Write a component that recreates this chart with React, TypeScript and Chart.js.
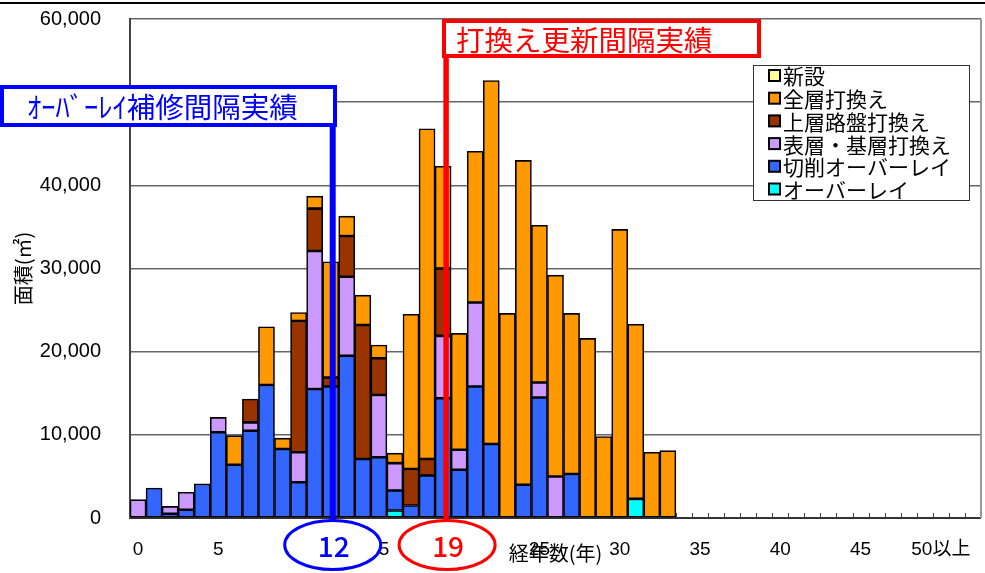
import React, { useEffect, useRef } from 'react';
import { Chart, registerables } from 'chart.js';

Chart.register(...registerables);

// ---- data ----
const categories: string[] = [
  ...Array.from({ length: 50 }, (_, i) => String(i)),
  '50以上', '', '',
];

const seriesNames = ['オーバーレイ', '切削オーバーレイ', '表層・基層打換え', '上層路盤打換え', '全層打換え', '新設'];
const seriesColors = ['#00ffff', '#3366ff', '#cc99ff', '#993300', '#ff9900', '#ffff99'];

// years 0..33 (m²)
const overlay = [0, 0, 0, 0, 0, 0, 0, 0, 0, 0, 0, 0, 0, 0, 0, 0, 900, 0, 0, 0, 0, 0, 0, 0, 0, 0, 0, 0, 0, 0, 0, 2300, 0, 0];
const cutOverlay = [0, 3600, 500, 1000, 4100, 10300, 6400, 10500, 16000, 8300, 4300, 15500, 15800, 19500, 7100, 7300, 2400, 1500, 5100, 14400, 5800, 15800, 8900, 0, 4000, 14500, 0, 5300, 0, 0, 0, 0, 0, 0];
const surfaceBase = [2200, 0, 900, 2100, 0, 1800, 0, 1000, 0, 0, 3600, 16600, 0, 9500, 0, 7500, 3300, 0, 0, 7500, 2400, 10100, 0, 0, 0, 1800, 5000, 0, 0, 0, 0, 0, 0, 0];
const upperBase = [0, 0, 0, 0, 0, 0, 0, 2800, 0, 0, 15800, 5100, 1100, 4900, 16100, 4400, 0, 4400, 2000, 8100, 0, 0, 0, 0, 0, 0, 0, 0, 0, 0, 0, 0, 0, 0];
const fullDepth = [0, 0, 0, 0, 0, 0, 3500, 0, 7000, 1300, 1000, 1500, 13900, 2400, 3600, 1600, 1200, 18600, 39700, 12300, 14000, 18200, 43700, 24600, 39000, 18900, 24200, 19300, 21600, 9800, 34700, 21000, 7900, 8100];
const newBuild = [0, 0, 0, 0, 0, 0, 0, 0, 0, 0, 0, 0, 0, 0, 0, 0, 0, 0, 0, 0, 0, 0, 0, 0, 0, 0, 0, 0, 0, 0, 0, 0, 0, 0];

const seriesValues = [overlay, cutOverlay, surfaceBase, upperBase, fullDepth, newBuild];

const yTicks = [0, 10000, 20000, 30000, 40000, 50000, 60000];

const blueLabel = 'ｵｰﾊﾞｰﾚｲ補修間隔実績';
const blueYear = 12;
const redLabel = '打換え更新間隔実績';
const redYear = 19;

const yTitle = '面積(㎡)';
const xTitle = '経年数(年)';

const JP = "'Noto Sans CJK JP', sans-serif";
const NUM = "'Liberation Sans', 'Noto Sans CJK JP', sans-serif";

const decorPlugin = {
  id: 'decor',
  beforeDatasetsDraw(chart: any) {
    const { ctx, chartArea: ca, scales } = chart;
    const x = scales.x;
    const n = chart.data.labels.length;
    const w = (ca.right - ca.left) / n;
    ctx.save();
    ctx.strokeStyle = '#444';
    ctx.lineWidth = 1;
    for (let i = 1; i < n; i++) {
      const px = Math.round(x.getPixelForValue(i) - w / 2) + 0.5;
      ctx.beginPath();
      ctx.moveTo(px, ca.bottom);
      ctx.lineTo(px, ca.bottom - 5);
      ctx.stroke();
    }
    ctx.strokeStyle = '#999';
    ctx.lineWidth = 2;
    ctx.beginPath();
    ctx.moveTo(ca.right, ca.top);
    ctx.lineTo(ca.right, ca.bottom);
    ctx.stroke();
    ctx.restore();
  },
  afterDraw(chart: any) {
    const { ctx, chartArea: ca, scales } = chart;
    const x = scales.x;
    ctx.save();

    // top frame line
    ctx.strokeStyle = '#000';
    ctx.lineWidth = 2;
    ctx.beginPath();
    ctx.moveTo(0, 3);
    ctx.lineTo(985, 3);
    ctx.stroke();

    // legend
    ctx.fillStyle = '#fff';
    ctx.fillRect(753.5, 65.5, 216, 135);
    ctx.strokeStyle = '#333';
    ctx.lineWidth = 1;
    ctx.strokeRect(753.5, 65.5, 216, 135);
    const ds = chart.data.datasets;
    ctx.font = `21px ${JP}`;
    ctx.textBaseline = 'middle';
    ctx.textAlign = 'left';
    for (let k = 0; k < ds.length; k++) {
      const d = ds[ds.length - 1 - k];
      const yy = 75.5 + k * 22.7;
      ctx.fillStyle = d.backgroundColor;
      ctx.fillRect(769, yy - 5.5, 11, 11);
      ctx.strokeStyle = '#000';
      ctx.lineWidth = 2;
      ctx.strokeRect(769, yy - 5.5, 11, 11);
      ctx.fillStyle = '#000';
      ctx.fillText(d.label, 783, yy + 1);
    }

    // blue annotation
    const bx = x.getPixelForValue(blueYear) + 2;
    ctx.strokeStyle = '#0000ff';
    ctx.lineWidth = 6;
    ctx.beginPath();
    ctx.moveTo(bx, 124);
    ctx.lineTo(bx, ca.bottom + 2);
    ctx.stroke();
    ctx.fillStyle = '#fff';
    ctx.fillRect(2, 87, 333, 38);
    ctx.lineWidth = 4;
    ctx.strokeRect(2, 87, 333, 38);
    ctx.fillStyle = '#0000ff';
    ctx.font = `28.5px ${JP}`;
    ctx.textBaseline = 'middle';
    ctx.fillText(blueLabel, 27, 107);

    // red annotation
    const rx = x.getPixelForValue(redYear) + 3;
    ctx.strokeStyle = '#ff0000';
    ctx.lineWidth = 5.5;
    ctx.beginPath();
    ctx.moveTo(rx, 56);
    ctx.lineTo(rx, ca.bottom + 2);
    ctx.stroke();
    ctx.fillStyle = '#fff';
    ctx.fillRect(444, 21, 315, 35);
    ctx.lineWidth = 4;
    ctx.strokeRect(444, 21, 315, 35);
    ctx.fillStyle = '#ff0000';
    ctx.fillText(redLabel, 456, 40);

    // ellipses
    const ellipse = (cx: number, color: string, txt: string) => {
      ctx.beginPath();
      ctx.ellipse(cx, 545, 48, 24.5, 0, 0, Math.PI * 2);
      ctx.fillStyle = '#fff';
      ctx.fill();
      ctx.strokeStyle = color;
      ctx.lineWidth = 3;
      ctx.stroke();
      ctx.fillStyle = color;
      ctx.font = `500 28px ${JP}`;
      ctx.textAlign = 'center';
      ctx.textBaseline = 'middle';
      ctx.fillText(txt, cx + 1, 546);
    };
    ellipse(bx, '#0000ff', String(blueYear));
    ellipse(rx + 1, '#ff0000', String(redYear));

    ctx.restore();
  },
};

export default function App() {
  const ref = useRef<HTMLCanvasElement | null>(null);

  useEffect(() => {
    if (!ref.current) return;
    Chart.defaults.color = '#000';
    const chart = new Chart(ref.current, {
      type: 'bar',
      data: {
        labels: categories,
        datasets: seriesNames.map((name, i) => ({
          label: name,
          data: seriesValues[i].map((v) => (v === 0 ? null : v)),
          backgroundColor: seriesColors[i],
          borderColor: '#000',
          borderWidth: 1.6,
          borderSkipped: false,
          barPercentage: 1,
          categoryPercentage: 1,
        })),
      },
      options: {
        animation: false,
        responsive: false,
        devicePixelRatio: 1,
        layout: { padding: { top: 19, right: 4, left: 0, bottom: 0 } },
        plugins: {
          legend: { display: false },
          tooltip: { enabled: false },
        },
        scales: {
          x: {
            stacked: true,
            grid: { display: false },
            border: { display: true, color: '#333', width: 2 },
            ticks: {
              autoSkip: false,
              maxRotation: 0,
              minRotation: 0,
              padding: 12,
              font: { family: NUM, size: 19 },
              color: '#000',
              callback: (_v: any, i: number) => (i % 5 === 0 && i <= 50 ? categories[i] : ''),
            },
            title: {
              display: true,
              text: xTitle,
              font: { family: JP, size: 20 },
              color: '#000',
              padding: { top: 0, bottom: 8 },
            },
            afterFit: (s: any) => {
              s.height = 55;
            },
          },
          y: {
            stacked: true,
            min: yTicks[0],
            max: yTicks[yTicks.length - 1],
            afterBuildTicks: (s: any) => {
              s.ticks = yTicks.map((v) => ({ value: v }));
            },
            grid: { color: '#666', lineWidth: 1.5, drawTicks: true, tickLength: 26, tickColor: 'rgba(0,0,0,0)' },
            border: { display: true, color: '#444', width: 2 },
            ticks: {
              padding: 3,
              font: { family: NUM, size: 20 },
              color: '#000',
              callback: (v: any) => Number(v).toLocaleString('en-US'),
            },
            title: {
              display: true,
              text: yTitle,
              font: { family: JP, size: 20 },
              color: '#000',
              padding: { top: 11, bottom: 0 },
            },
            afterFit: (s: any) => {
              s.width = 130;
            },
          },
        },
      },
      plugins: [decorPlugin],
    } as any);
    return () => chart.destroy();
  }, []);

  return (
    <div style={{ position: 'absolute', left: 0, top: 0, width: 985, height: 573, background: '#fff' }}>
      <canvas ref={ref} width={985} height={573} style={{ display: 'block', width: 985, height: 573 }} />
    </div>
  );
}
